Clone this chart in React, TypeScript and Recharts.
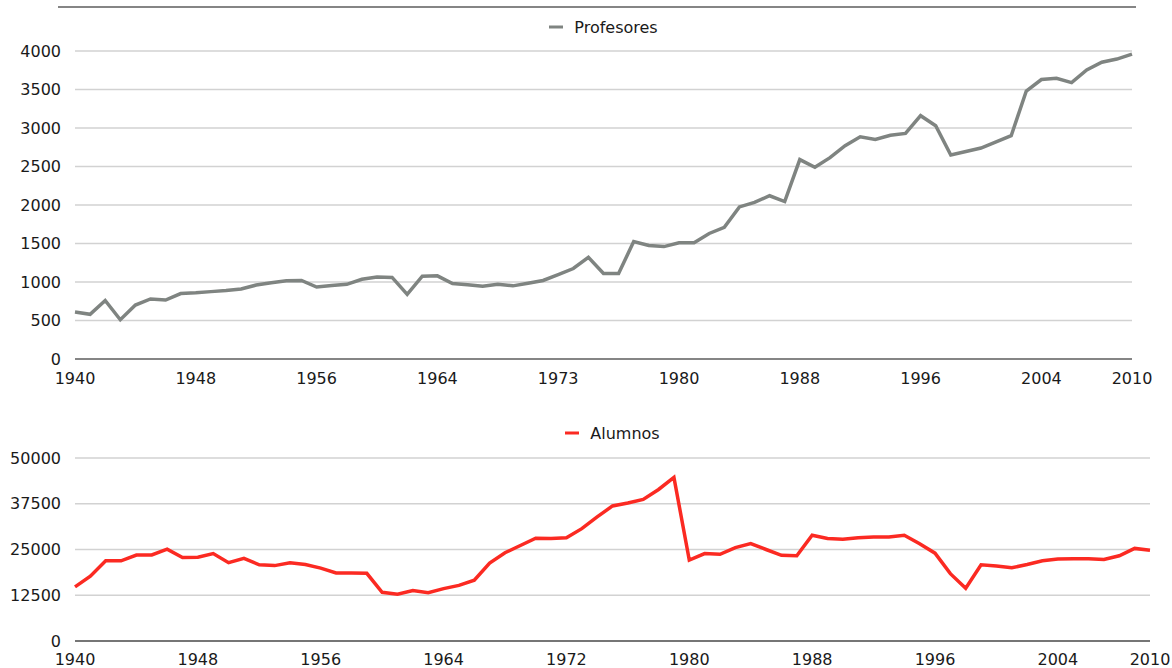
import React from 'react';
import { LineChart, Line, XAxis, YAxis, CartesianGrid, Legend } from 'recharts';

const years = [
  1940, 1941, 1942, 1943, 1944, 1945, 1946, 1947, 1948, 1949,
  1950, 1951, 1952, 1953, 1954, 1955, 1956, 1957, 1958, 1959,
  1960, 1961, 1962, 1963, 1964, 1965, 1966, 1967, 1968, 1969,
  1970, 1971, 1972, 1973, 1974, 1975, 1976, 1977, 1978, 1979,
  1980, 1981, 1982, 1983, 1984, 1985, 1986, 1987, 1988, 1989,
  1990, 1991, 1992, 1993, 1994, 1995, 1996, 1997, 1998, 1999,
  2000, 2001, 2002, 2003, 2004, 2005, 2006, 2007, 2008, 2009, 2010,
];

const profesores = [
  610, 580, 760, 510, 700, 780, 765, 850, 860, 875,
  890, 910, 960, 990, 1015, 1020, 935, 955, 970, 1035,
  1065, 1060, 840, 1075, 1080, 980, 965, 945, 970, 950,
  985, 1020, 1095, 1175, 1320, 1110, 1110, 1525, 1475, 1460,
  1510, 1510, 1630, 1710, 1975, 2035, 2120, 2045, 2590, 2490,
  2615, 2770, 2885, 2850, 2905, 2930, 3160, 3030, 2650, 2695,
  2740, 2820, 2900, 3480, 3630, 3645, 3590, 3755, 3855, 3895, 3960,
];

const alumnos = [
  14800, 17700, 21900, 21900, 23500, 23500, 25100, 22800, 22900, 23900,
  21400, 22600, 20800, 20600, 21400, 20900, 19900, 18600, 18600, 18500,
  13300, 12800, 13800, 13200, 14300, 15200, 16600, 21300, 24100, 26100,
  28100, 28000, 28200, 30700, 33900, 36900, 37700, 38700, 41400, 44700,
  22100, 23900, 23700, 25500, 26600, 25000, 23400, 23300, 28900, 28000,
  27800, 28200, 28400, 28400, 28900, 26600, 24000, 18400, 14400, 20800,
  20500, 20000, 20900, 21900, 22400, 22500, 22500, 22300, 23300, 25300, 24800,
];

const topTickIndex = [0, 8, 16, 24, 32, 40, 48, 56, 64, 70];
const topTickLabels = ['1940', '1948', '1956', '1964', '1973', '1980', '1988', '1996', '2004', '2010'];
const bottomTickIndex = [0, 8, 16, 24, 32, 40, 48, 56, 64, 70];
const bottomTickLabels = ['1940', '1948', '1956', '1964', '1972', '1980', '1988', '1996', '2004', '2010'];

const topYTicks = [0, 500, 1000, 1500, 2000, 2500, 3000, 3500, 4000];
const bottomYTicks = [0, 12500, 25000, 37500, 50000];

const data = years.map((y, i) => ({
  year: String(y),
  profesores: profesores[i],
  alumnos: alumnos[i],
}));

const FONT = '"DejaVu Sans", sans-serif';
const tickStyle = { fill: '#1a1a1a', fontSize: 16, fontFamily: FONT };

const makeLegend = (color: string) => (props: any) => {
  const p = props.payload && props.payload[0];
  return (
    <div style={{ display: 'flex', justifyContent: 'center', alignItems: 'center', height: 20, fontFamily: FONT, fontSize: 16, color: '#1a1a1a' }}>
      <svg width={14} height={4} style={{ marginRight: 11 }}>
        <line x1={0} y1={2} x2={14} y2={2} stroke={color} strokeWidth={3} />
      </svg>
      <span>{p ? p.value : ''}</span>
    </div>
  );
};

const fmt = (idx: number[], labels: string[]) => (_v: any, i: number) => {
  const k = idx.indexOf(i);
  return k >= 0 ? labels[k] : '';
};

export default function App() {
  return (
    <div style={{ position: 'absolute', left: 0, top: 0, width: 1172, height: 668, background: '#fff', fontFamily: FONT }}>
      <div style={{ position: 'absolute', left: 58, top: 6, width: 1078, height: 0, borderTop: '2px solid #858585' }} />
      <div style={{ position: 'absolute', left: 0, top: 0 }}>
        <LineChart width={1172} height={395} data={data} margin={{ top: 51, right: 40, bottom: 6, left: 0 }}>
          <CartesianGrid vertical={false} stroke="#d2d2d2" strokeWidth={1.3} />
          <XAxis
            dataKey="year"
            interval={0}
            tickLine={false}
            tickSize={0}
            tickMargin={14}
            height={30}
            axisLine={{ stroke: '#858585', strokeWidth: 2 }}
            tick={tickStyle}
            tickFormatter={fmt(topTickIndex, topTickLabels)}
          />
          <YAxis
            domain={[0, 4000]}
            ticks={topYTicks}
            interval={0}
            axisLine={false}
            tickLine={false}
            tickSize={0}
            tickMargin={14}
            width={75}
            tick={tickStyle}
          />
          <Legend
            verticalAlign="middle"
            align="center"
            wrapperStyle={{ top: 17, left: 75, width: 1057 }}
            content={makeLegend('#7f8481')}
          />
          <Line
            type="linear"
            dataKey="profesores"
            name="Profesores"
            stroke="#7f8481"
            strokeWidth={3.5}
            dot={false}
            activeDot={false}
            isAnimationActive={false}
          />
        </LineChart>
      </div>
      <div style={{ position: 'absolute', left: 0, top: 395 }}>
        <LineChart width={1172} height={273} data={data} margin={{ top: 63, right: 22, bottom: 0, left: 0 }}>
          <CartesianGrid vertical={false} stroke="#d2d2d2" strokeWidth={1.3} />
          <XAxis
            dataKey="year"
            interval={0}
            tickLine={false}
            tickSize={0}
            tickMargin={13}
            height={27}
            axisLine={{ stroke: '#111111', strokeWidth: 1.2 }}
            tick={tickStyle}
            tickFormatter={fmt(bottomTickIndex, bottomTickLabels)}
          />
          <YAxis
            domain={[0, 50000]}
            ticks={bottomYTicks}
            interval={0}
            axisLine={false}
            tickLine={false}
            tickSize={0}
            tickMargin={14}
            width={75}
            tick={tickStyle}
          />
          <Legend
            verticalAlign="middle"
            align="center"
            wrapperStyle={{ top: 28, left: 75, width: 1075 }}
            content={makeLegend('#fb2a22')}
          />
          <Line
            type="linear"
            dataKey="alumnos"
            name="Alumnos"
            stroke="#fb2a22"
            strokeWidth={3.5}
            dot={false}
            activeDot={false}
            isAnimationActive={false}
          />
        </LineChart>
      </div>
    </div>
  );
}
